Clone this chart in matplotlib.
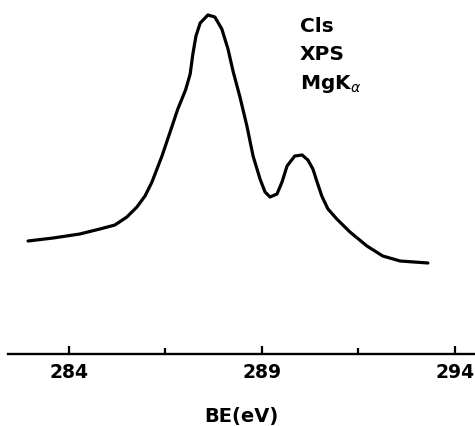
import matplotlib
matplotlib.use("Agg")
import matplotlib.pyplot as plt

# C1s XPS spectrum (binding energy, arbitrary intensity)
be = [282.94, 283.59, 284.28, 284.80, 285.19, 285.50, 285.76, 285.97, 286.15,
      286.41, 286.62, 286.82, 287.02, 287.14, 287.21, 287.29, 287.40, 287.60,
      287.78, 287.96, 288.12, 288.25, 288.43, 288.61, 288.77, 288.95, 289.08,
      289.21, 289.39, 289.52, 289.65, 289.85, 290.04, 290.19, 290.32, 290.42,
      290.55, 290.71, 290.94, 291.28, 291.72, 292.13, 292.58, 293.30]
intensity = [113, 116, 120, 125, 129, 137, 147, 158, 172,
             198, 222, 245, 264, 280, 300, 318, 331, 339,
             337, 325, 305, 283, 257, 228, 198, 175, 162,
             157, 160, 172, 188, 198, 199, 194, 185, 173,
             158, 145, 135, 122, 108, 98, 93, 91]

major_ticks = [284, 289, 294]
minor_ticks = [286.5, 291.5]
annotation = ["Cls", "XPS", r"MgK$_{\alpha}$"]

fig = plt.figure(figsize=(4.75, 4.27), dpi=100)
ax = fig.add_axes([8 / 475, 72 / 427, 1 - 8 / 475, 1 - 72 / 427])

ax.plot(be, intensity, color="black", lw=2.3,
        solid_joinstyle="round", solid_capstyle="round")

ax.set_xlim(282.42, 294.52)
ax.set_ylim(0, 355)

for s in ["top", "left", "right"]:
    ax.spines[s].set_visible(False)
ax.spines["bottom"].set_linewidth(1.7)
ax.set_yticks([])

ax.set_xticks(major_ticks)
ax.set_xticks(minor_ticks, minor=True)
ax.tick_params(axis="x", which="major", direction="in", length=6, width=1.6,
               labelsize=13.5, pad=6)
ax.tick_params(axis="x", which="minor", direction="in", length=4, width=1.6)
for lab in ax.get_xticklabels():
    lab.set_fontweight("bold")

ax.set_xlabel("BE(eV)", fontsize=14, fontweight="bold", labelpad=18)

# label block at the upper right, one line per entry
for i, txt in enumerate(annotation):
    fig.text(300 / 475, 1 - (17 + 28 * i) / 427, txt, fontsize=14.5,
             fontweight="bold", va="top", ha="left")

fig.savefig("out.png", dpi=100)
